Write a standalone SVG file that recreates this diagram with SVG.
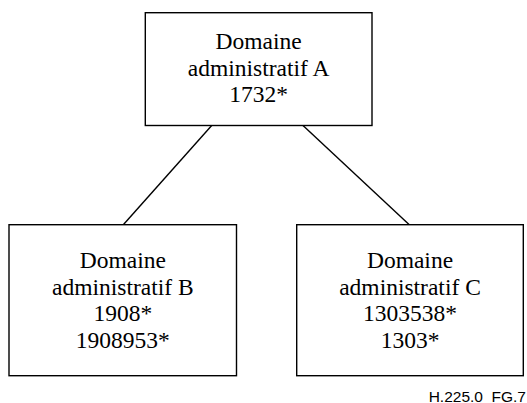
<svg xmlns="http://www.w3.org/2000/svg" width="527" height="403" viewBox="0 0 527 403">
<style>
.box{fill:#fff;stroke:#000;stroke-width:1.4}
.lbl{font-family:'Liberation Serif','Times New Roman',Times,serif;font-size:23.5px;fill:#000;text-anchor:middle}
.conn{stroke:#000;stroke-width:1.4;fill:none}
.cap{font-family:'Liberation Sans',Arial,sans-serif;font-size:15.5px;fill:#000;text-anchor:end}
</style>
<rect width="527" height="403" fill="#fff"/>
<g id="connectors">
<line class="conn" x1="211.7" y1="125.5" x2="123.3" y2="224.7"/>
<line class="conn" x1="303" y1="125.5" x2="409.3" y2="224.7"/>
</g>
<g id="nodeA">
<rect class="box" x="145.3" y="12.7" width="226.7" height="112.8"/>
<text class="lbl" x="258.6" y="49">Domaine</text>
<text class="lbl" x="258.6" y="75.5">administratif A</text>
<text class="lbl" x="258.6" y="102">1732*</text>
</g>
<g id="nodeB">
<rect class="box" x="9" y="224.7" width="227.5" height="151"/>
<text class="lbl" x="122.8" y="268">Domaine</text>
<text class="lbl" x="122.8" y="294.5">administratif B</text>
<text class="lbl" x="122.8" y="321">1908*</text>
<text class="lbl" x="122.8" y="347.5">1908953*</text>
</g>
<g id="nodeC">
<rect class="box" x="296.7" y="224.7" width="226.6" height="151"/>
<text class="lbl" x="410" y="268">Domaine</text>
<text class="lbl" x="410" y="294.5">administratif C</text>
<text class="lbl" x="410" y="321">1303538*</text>
<text class="lbl" x="410" y="347.5">1303*</text>
</g>
<text class="cap" x="526" y="401.5" xml:space="preserve">H.225.0  FG.7</text>
</svg>
